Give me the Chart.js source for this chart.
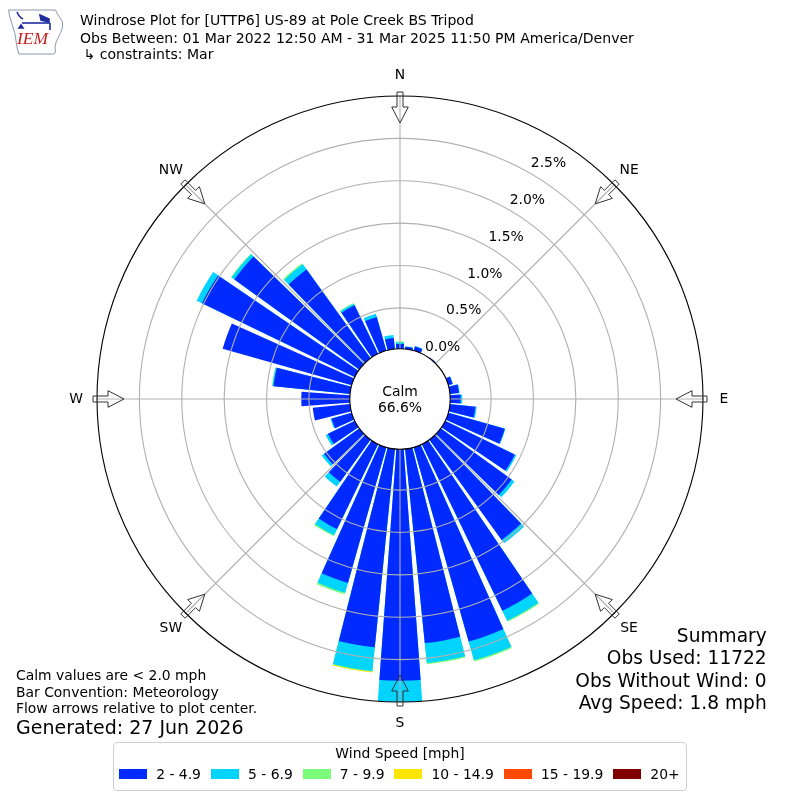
<!DOCTYPE html>
<html><head><meta charset="utf-8">
<script src="https://cdn.jsdelivr.net/npm/chart.js@4.4.1/dist/chart.umd.min.js"></script>
<style>
html,body{margin:0;padding:0;background:#fff;}
#wrap{position:relative;width:800px;height:800px;overflow:hidden;font-family:'DejaVu Sans',sans-serif;color:#000;}
#c{position:absolute;left:0;top:0;}
.t{position:absolute;white-space:pre;}
.f14{font-size:13.9px;line-height:13.9px;}
.ft{font-size:14.05px;line-height:14.05px;}
#legend{position:absolute;left:113px;top:742px;width:574px;height:49px;box-sizing:border-box;border:1px solid #cfcfcf;border-radius:4px;background:#fff;}
#legrow{position:absolute;left:119px;top:768.2px;font-size:13.9px;line-height:13.9px;white-space:nowrap;}
.sw{display:inline-block;width:28px;height:10px;margin-right:9.2px;vertical-align:baseline;}
.it{display:inline-block;margin-right:9.8px;}
</style></head><body>
<div id="wrap">
<canvas id="c" width="800" height="800"></canvas>
<svg width="70" height="62" viewBox="0 0 70 62" style="position:absolute;left:0;top:0">
<path d="M8.5,10 L55.5,10 Q57,14 59.5,17 Q64,22 62.5,27 Q61,33 58.5,37 Q55.5,42 55,47 L55.5,52 Q54,55 51.5,54 L19,54 Q17,49 16.5,44 Q15.5,33 12,24 Q9.5,17 8.5,10 Z" fill="none" stroke="#8c96b4" stroke-width="1"/>
<g stroke="#1f2f9f" stroke-width="1.6" fill="#1f2f9f">
<path d="M17,12 Q19,17 23,19" fill="none"/>
<line x1="22" y1="23" x2="50" y2="23"/>
<path d="M40,15 L49,19 L49,22 L41,20 Z"/>
<path d="M21,25 l-2,3 l4,0 z"/>
<line x1="50" y1="23" x2="50" y2="30"/>
</g>
<text x="17" y="44" font-family="Liberation Serif" font-style="italic" font-size="17.5" fill="#cc1f1f">IEM</text>
</svg>
<div class="t ft" style="left:80px;top:12.7px">Windrose Plot for [UTTP6] US-89 at Pole Creek BS Tripod</div>
<div class="t ft" style="left:80px;top:31.2px">Obs Between: 01 Mar 2022 12:50 AM - 31 Mar 2025 11:50 PM America/Denver</div>
<div class="t ft" style="left:83.5px;top:47.2px">↳ constraints: Mar</div>
<div class="t f14" style="left:16px;top:668.9px">Calm values are &lt; 2.0 mph</div>
<div class="t f14" style="left:16px;top:685.5px">Bar Convention: Meteorology</div>
<div class="t f14" style="left:16px;top:701.5px">Flow arrows relative to plot center.</div>
<div class="t" style="left:16px;top:717.9px;font-size:19px;line-height:19px">Generated: 27 Jun 2026</div>
<div class="t" style="right:33.3px;top:627px;font-size:18.6px;line-height:18.6px;text-align:right">Summary</div>
<div class="t" style="right:33.3px;top:649.3px;font-size:18.6px;line-height:18.6px;text-align:right">Obs Used: 11722</div>
<div class="t" style="right:33.3px;top:671.6px;font-size:18.6px;line-height:18.6px;text-align:right">Obs Without Wind: 0</div>
<div class="t" style="right:33.3px;top:693.6px;font-size:18.6px;line-height:18.6px;text-align:right">Avg Speed: 1.8 mph</div>
<div id="legend"></div>
<div class="t f14" style="left:113px;width:574px;text-align:center;top:746.7px">Wind Speed [mph]</div>
<div id="legrow"></div>
</div>
<script>
// ---- data (percent of observations) ----
const DIRECTIONS = [0,10,20,30,40,50,60,70,80,90,100,110,120,130,140,150,160,170,180,190,200,210,220,230,240,250,260,270,280,290,300,310,320,330,340,350];
const SPEED_BINS = ['2 - 4.9','5 - 6.9','7 - 9.9','10 - 14.9','15 - 19.9','20+'];
const BIN_COLORS = ['#002aff','#00d4ff','#7bff7b','#ffe600','#ff4800','#800000'];
const SPEED_2_5   = [0.075,0.045,0.07,0.015,0.03,0.012,0.015,0.07,0.125,0.14,0.32,0.71,0.93,1.05,1.475,2.20,2.40,2.32,2.75,2.37,1.68,1.13,0.63,0.53,0.37,0.265,0.46,0.59,0.925,1.60,2.02,1.835,1.31,0.655,0.43,0.15];
const SPEED_5_7   = [0.02,0.005,0.005,0,0,0,0,0.005,0.008,0.02,0.015,0.008,0.02,0.04,0.05,0.13,0.23,0.235,0.25,0.28,0.12,0.08,0.07,0.035,0.03,0.012,0,0,0.01,0,0.07,0.04,0.075,0.02,0.04,0.035];
const SPEED_7_10  = [0.01,0,0,0,0,0,0,0,0,0,0,0,0,0,0,0.015,0.015,0.015,0,0.01,0.02,0.015,0,0,0,0,0,0,0.01,0,0,0.01,0.015,0.01,0,0];
const SPEED_10_15 = [0,0,0,0,0,0,0,0,0,0,0,0,0,0,0,0,0,0,0,0.008,0,0,0,0,0,0,0,0,0,0,0,0,0,0,0,0];
const SPEED_15_20 = [0,0,0,0,0,0,0,0,0,0,0,0,0,0,0,0,0,0,0,0,0,0,0,0,0,0,0,0,0,0,0,0,0,0,0,0];
const SPEED_20P   = [0,0,0,0,0,0,0,0,0,0,0,0,0,0,0,0,0,0,0,0,0,0,0,0,0,0,0,0,0,0,0,0,0,0,0,0];
const RING_TICKS = [0,0.5,1.0,1.5,2.0,2.5,3.0];
const RING_MAX = 3.0;
const CALM_LABEL = ['Calm','66.6%'];
const COMPASS = ['N','NE','E','SE','S','SW','W','NW'];

// ---- geometry / style ----
const SERIES = [SPEED_2_5, SPEED_5_7, SPEED_7_10, SPEED_10_15, SPEED_15_20, SPEED_20P];
const BAR_DEG = 8.4, GAP_DEG = 10 - BAR_DEG;
const R_MIN = -0.5745; // puts the 0% ring at the calm circle edge

// legend (html)
const row = document.getElementById('legrow');
SPEED_BINS.forEach((b, k) => {
  const it = document.createElement('span'); it.className = 'it';
  const sw = document.createElement('span'); sw.className = 'sw'; sw.style.background = BIN_COLORS[k];
  it.appendChild(sw); it.appendChild(document.createTextNode(b)); row.appendChild(it);
});

const labels = [];
DIRECTIONS.forEach(d => { labels.push(d + '°'); labels.push(''); });
const cum = DIRECTIONS.map(() => 0);
const datasets = SERIES.map((s, k) => {
  const data = [];
  s.forEach((v, i) => { cum[i] += v; data.push(v > 0 ? cum[i] : R_MIN); data.push(R_MIN); });
  return {
    label: SPEED_BINS[k], data,
    backgroundColor: BIN_COLORS[k], borderWidth: 0, hoverBorderWidth: 0,
    angle: c => (c.dataIndex % 2 === 0 ? BAR_DEG : GAP_DEG)
  };
});

const FONT = "13.9px 'DejaVu Sans'";
const decor = {
  id: 'decor',
  afterDatasetsDraw(chart) {
    const sc = chart.scales.r, ctx = chart.ctx;
    ctx.save(); ctx.strokeStyle = '#b0b0b0'; ctx.lineWidth = 1.1;
    for (let k = 0; k < 8; k++) {
      const a = k * Math.PI / 4;
      ctx.beginPath(); ctx.moveTo(sc.xCenter, sc.yCenter);
      ctx.lineTo(sc.xCenter + sc.drawingArea * Math.sin(a), sc.yCenter - sc.drawingArea * Math.cos(a));
      ctx.stroke();
    }
    ctx.restore();
  },
  afterDraw(chart) {
    const sc = chart.scales.r, ctx = chart.ctx;
    const cx = sc.xCenter, cy = sc.yCenter, R = sc.drawingArea;
    ctx.save();
    // calm circle
    const r0 = sc.getDistanceFromCenterForValue(0) + 1.5;
    ctx.beginPath(); ctx.arc(cx, cy, r0, 0, Math.PI * 2);
    ctx.fillStyle = '#fff'; ctx.fill(); ctx.strokeStyle = '#000'; ctx.lineWidth = 1.1; ctx.stroke();
    ctx.fillStyle = '#000'; ctx.font = FONT; ctx.textAlign = 'center'; ctx.textBaseline = 'alphabetic';
    ctx.fillText(CALM_LABEL[0], cx, cy - 3.5);
    ctx.fillText(CALM_LABEL[1], cx, cy + 13);
    // ring labels along 30 deg
    const ua = 30 * Math.PI / 180;
    const ux = Math.sin(ua), uy = -Math.cos(ua), px = Math.cos(ua), py = Math.sin(ua);
    ctx.textBaseline = 'middle';
    RING_TICKS.forEach(v => {
      if (v >= RING_MAX) return;
      const d = sc.getDistanceFromCenterForValue(v) + 17.3;
      ctx.fillText(v.toFixed(1) + '%', cx + d * ux + 11 * px, cy + d * uy + 11 * py);
    });
    // arrows + compass labels
    COMPASS.forEach((lab, k) => {
      const a = k * Math.PI / 4;
      const sx = Math.sin(a), sy = -Math.cos(a), nx = Math.cos(a), ny = Math.sin(a);
      const P = (t, s) => [cx + t * sx + s * nx, cy + t * sy + s * ny];
      const pts = [P(R + 4, -3), P(R - 11, -3), P(R - 11, -8.3), P(R - 27, 0), P(R - 11, 8.3), P(R - 11, 3), P(R + 4, 3)];
      ctx.beginPath(); ctx.moveTo(pts[0][0], pts[0][1]);
      for (let i = 1; i < pts.length; i++) ctx.lineTo(pts[i][0], pts[i][1]);
      ctx.closePath(); ctx.strokeStyle = '#333'; ctx.lineWidth = 1; ctx.stroke();
      const L = P(R + 21, 0);
      ctx.fillStyle = '#000'; ctx.fillText(lab, L[0], L[1]);
    });
    ctx.restore();
  }
};

new Chart(document.getElementById('c'), {
  type: 'polarArea',
  data: { labels, datasets },
  options: {
    responsive: false, animation: false,
    layout: { padding: { top: 96, bottom: 98, left: 97, right: 97 } },
    plugins: { legend: { display: false }, tooltip: { enabled: false } },
    events: [],
    scales: {
      r: {
        min: R_MIN, max: RING_MAX, startAngle: -BAR_DEG / 2, beginAtZero: false, z: 1,
        grid: { display: true, circular: true, z: 1, lineWidth: 1.1,
          color: c => (c.tick && c.tick.value === RING_MAX ? '#000000' : '#b0b0b0') },
        angleLines: { display: false },
        pointLabels: { display: false },
        ticks: { display: false },
        afterBuildTicks: s => { s.ticks = RING_TICKS.map(v => ({ value: v })); }
      }
    }
  },
  plugins: [decor]
});
</script>
</body></html>
